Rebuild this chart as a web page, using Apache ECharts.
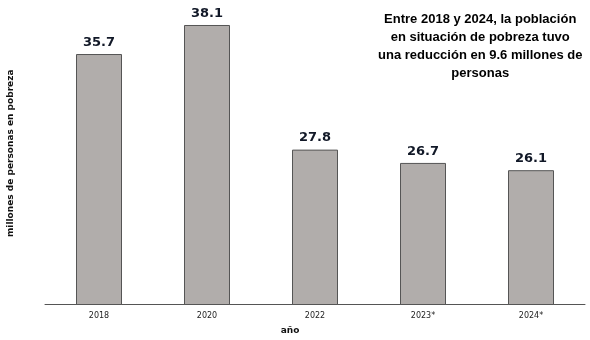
<!DOCTYPE html>
<html>
<head>
<meta charset="utf-8">
<script src="https://cdn.jsdelivr.net/npm/echarts@6/dist/echarts.min.js"></script>
<style>
  html, body { margin: 0; padding: 0; background: #fff; }
  #chart { width: 590px; height: 340px; }
</style>
</head>
<body>
<div id="chart"></div>
<script>
// Población en situación de pobreza (millones de personas)
const years = ['2018', '2020', '2022', '2023*', '2024*'];
const pobreza = [35.7, 38.1, 27.8, 26.7, 26.1];
const nota = 'Entre 2018 y 2024, la población\nen situación de pobreza tuvo\nuna reducción en 9.6 millones de\npersonas';

const chart = echarts.init(document.getElementById('chart'));
chart.setOption({
  animation: false,
  grid: { left: 45, right: 5, top: 2, bottom: 35.5, containLabel: false, outerBoundsMode: 'none' },
  xAxis: {
    type: 'category',
    data: years,
    name: 'año',
    nameLocation: 'middle',
    nameGap: 22,
    nameTextStyle: { fontFamily: 'DejaVu Sans', fontWeight: 'bold', fontSize: 9, color: '#111', padding: [0, 50, 0, 0] },
    axisLine: { lineStyle: { color: '#555', width: 1 } },
    axisTick: { length: 4, lineStyle: { color: '#888' } },
    axisLabel: { fontFamily: 'DejaVu Sans', fontSize: 8, color: '#222', margin: 7 }
  },
  yAxis: {
    type: 'value',
    min: 15,
    max: 40,
    name: 'millones de personas en pobreza',
    nameLocation: 'middle',
    nameGap: 30,
    nameRotate: 90,
    nameTextStyle: { fontFamily: 'DejaVu Sans', fontWeight: 'bold', fontSize: 9, color: '#111' },
    axisLine: { show: false },
    axisTick: { show: false },
    axisLabel: { show: false },
    splitLine: { show: false }
  },
  graphic: [{
    type: 'text',
    left: 378,
    top: 10,
    style: {
      text: nota,
      x: 97,
      textAlign: 'center',
      fontFamily: 'Liberation Sans',
      fontWeight: 'bold',
      fontSize: 13,
      lineHeight: 18,
      fill: '#000'
    }
  }],
  series: [{
    type: 'bar',
    data: pobreza,
    barWidth: 46,
    itemStyle: { color: '#b1adab', borderColor: '#555', borderWidth: 1 },
    label: {
      show: true,
      position: 'top',
      distance: 5,
      formatter: p => p.value.toFixed(1),
      fontFamily: 'DejaVu Sans',
      fontWeight: 'bold',
      fontSize: 13,
      color: '#111827'
    }
  }]
});
</script>
</body>
</html>
